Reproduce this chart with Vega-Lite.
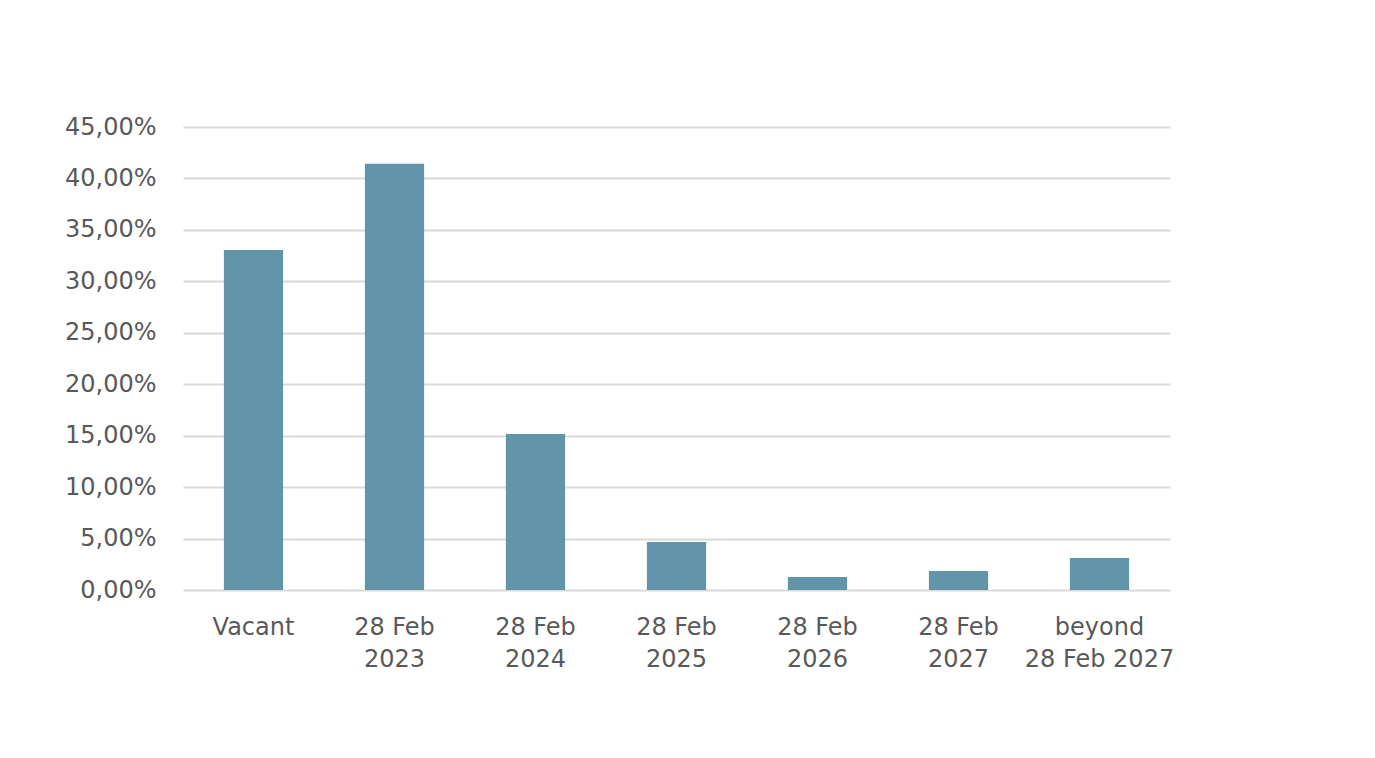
{
  "$schema": "https://vega.github.io/schema/vega-lite/v6.json",
  "autosize": "none",
  "width": 987,
  "height": 463,
  "padding": {"left": 183, "top": 127, "right": 205, "bottom": 168},
  "background": "#ffffff",
  "config": {"view": {"stroke": null}},
  "data": {
    "values": [
      {"category": "Vacant", "share": 0.3305},
      {"category": "28 Feb|2023", "share": 0.4142},
      {"category": "28 Feb|2024", "share": 0.1517},
      {"category": "28 Feb|2025", "share": 0.0466},
      {"category": "28 Feb|2026", "share": 0.0126},
      {"category": "28 Feb|2027", "share": 0.0185},
      {"category": "beyond|28 Feb 2027", "share": 0.0311}
    ]
  },
  "mark": {"type": "bar", "color": "#6395AA"},
  "encoding": {
    "x": {
      "field": "category",
      "type": "nominal",
      "sort": null,
      "scale": {"paddingInner": 0.58, "paddingOuter": 0.29},
      "axis": {
        "title": null,
        "domain": false,
        "ticks": false,
        "labelAngle": 0,
        "labelFont": "DejaVu Sans",
        "labelFontSize": 24,
        "labelColor": "#595959",
        "labelPadding": 25,
        "labelLineHeight": 32,
        "labelBaseline": "top",
        "labelExpr": "split(datum.value, '|')"
      }
    },
    "y": {
      "field": "share",
      "type": "quantitative",
      "scale": {"domain": [0, 0.45], "nice": false},
      "axis": {
        "title": null,
        "domain": false,
        "ticks": false,
        "values": [0, 0.05, 0.1, 0.15, 0.2, 0.25, 0.3, 0.35, 0.4, 0.45],
        "labelExpr": "replace(format(datum.value, '.2%'), '.', ',')",
        "labelFont": "DejaVu Sans",
        "labelFontSize": 24,
        "labelColor": "#595959",
        "labelPadding": 27,
        "gridColor": "#D9D9D9",
        "gridWidth": 2
      }
    }
  }
}
